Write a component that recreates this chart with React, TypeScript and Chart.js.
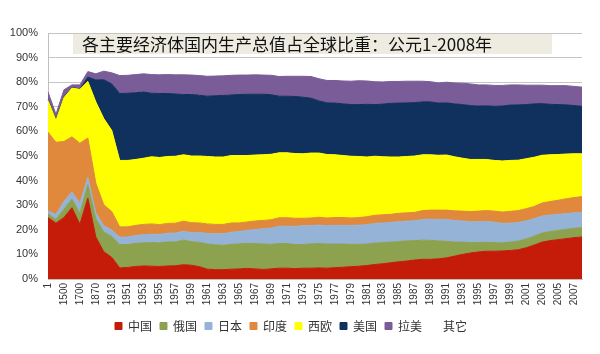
import React, { useEffect, useRef } from 'react';
import { Chart, registerables } from 'chart.js';

Chart.register(...registerables);

const categories = [
  '1', '1000', '1500', '1600', '1700', '1820', '1870', '1900', '1913',
  '1950', '1951', '1952', '1953', '1954', '1955', '1956', '1957', '1958', '1959',
  '1960', '1961', '1962', '1963', '1964', '1965', '1966', '1967', '1968', '1969',
  '1970', '1971', '1972', '1973', '1974', '1975', '1976', '1977', '1978', '1979',
  '1980', '1981', '1982', '1983', '1984', '1985', '1986', '1987', '1988', '1989',
  '1990', '1991', '1992', '1993', '1994', '1995', '1996', '1997', '1998', '1999',
  '2000', '2001', '2002', '2003', '2004', '2005', '2006', '2007', '2008',
];

const china = [
  25.0, 22.7, 25.0, 29.0, 22.3, 32.9, 17.1, 11.1, 8.8,
  4.5, 4.7, 5.1, 5.3, 5.2, 5.1, 5.3, 5.4, 5.8, 5.6,
  5.0, 4.0, 3.8, 3.8, 4.0, 4.1, 4.3, 4.1, 3.9, 4.1,
  4.4, 4.4, 4.2, 4.4, 4.4, 4.5, 4.4, 4.6, 4.8, 5.0,
  5.2, 5.5, 5.9, 6.2, 6.6, 7.0, 7.3, 7.7, 8.0, 8.0,
  8.2, 8.6, 9.3, 10.0, 10.6, 11.0, 11.3, 11.3, 11.4, 11.6,
  11.9, 12.7, 13.8, 15.0, 15.6, 16.0, 16.4, 16.8, 17.1,
];

const russia = [
  1.5, 1.5, 3.4, 3.5, 4.4, 5.4, 7.5, 8.0, 8.5,
  9.5, 9.3, 9.4, 9.4, 9.6, 9.6, 9.8, 9.7, 10.0, 9.6,
  9.9, 10.2, 10.1, 9.9, 10.1, 10.2, 10.2, 10.3, 10.3, 10.0,
  10.0, 10.0, 9.8, 9.6, 9.9, 9.9, 9.8, 9.6, 9.4, 9.1,
  8.9, 8.7, 8.7, 8.6, 8.4, 8.2, 8.2, 7.9, 7.8, 7.7,
  7.3, 6.7, 5.7, 5.0, 4.2, 3.8, 3.6, 3.5, 3.3, 3.4,
  3.5, 3.6, 3.6, 3.7, 3.7, 3.7, 3.8, 3.8, 3.8,
];

const japan = [
  1.2, 2.0, 3.1, 2.9, 4.1, 3.0, 2.3, 2.5, 2.6,
  3.0, 3.1, 3.2, 3.3, 3.4, 3.4, 3.5, 3.6, 3.6, 3.7,
  4.0, 4.3, 4.5, 4.7, 4.9, 5.0, 5.3, 5.7, 6.2, 6.6,
  7.0, 7.1, 7.4, 7.6, 7.4, 7.5, 7.5, 7.6, 7.6, 7.7,
  7.8, 7.9, 8.0, 8.0, 8.0, 8.1, 8.0, 8.1, 8.4, 8.6,
  8.7, 8.9, 8.8, 8.6, 8.5, 8.5, 8.5, 8.3, 7.9, 7.7,
  7.6, 7.3, 7.1, 6.9, 6.7, 6.6, 6.4, 6.3, 6.2,
];

const india = [
  32.0, 29.4, 24.4, 22.4, 24.4, 16.0, 12.1, 8.6, 7.5,
  4.2, 4.1, 4.1, 4.2, 4.2, 4.0, 4.0, 4.0, 4.1, 4.0,
  3.9, 3.9, 3.8, 3.8, 3.8, 3.5, 3.4, 3.5, 3.4, 3.4,
  3.5, 3.4, 3.3, 3.1, 3.1, 3.2, 3.1, 3.2, 3.2, 3.0,
  3.1, 3.2, 3.3, 3.3, 3.3, 3.4, 3.4, 3.4, 3.6, 3.7,
  3.8, 3.8, 3.9, 4.0, 4.1, 4.3, 4.4, 4.5, 4.6, 4.8,
  4.8, 5.0, 5.0, 5.3, 5.5, 5.7, 6.0, 6.2, 6.4,
];

const westEurope = [
  12.9, 8.9, 17.8, 19.8, 21.9, 23.0, 33.0, 35.0, 33.0,
  27.0, 27.0, 26.8, 26.9, 27.3, 27.3, 27.2, 27.2, 27.0, 27.1,
  27.2, 27.4, 27.4, 27.4, 27.4, 27.4, 27.0, 26.8, 26.7, 26.6,
  26.4, 26.4, 26.3, 26.2, 26.4, 26.1, 25.8, 25.5, 25.2, 25.1,
  24.8, 24.3, 24.0, 23.6, 23.3, 22.9, 22.9, 22.9, 22.7, 22.5,
  22.3, 22.4, 22.0, 21.5, 21.2, 21.0, 20.8, 20.6, 20.8, 20.7,
  20.5, 20.3, 20.0, 19.4, 19.0, 18.6, 18.2, 17.8, 17.4,
];

const usa = [
  0.3, 0.4, 0.3, 0.2, 0.1, 1.8, 8.9, 15.8, 18.9,
  27.2, 27.3, 27.1, 26.9, 25.8, 26.0, 25.6, 25.3, 24.5, 25.0,
  24.7, 24.5, 24.9, 25.0, 24.6, 24.8, 24.9, 24.7, 24.6, 24.2,
  23.0, 23.0, 23.2, 23.0, 22.3, 21.2, 21.0, 21.0, 21.0, 21.0,
  21.1, 21.4, 21.0, 21.4, 21.8, 21.9, 21.8, 21.7, 21.5, 21.5,
  21.2, 21.2, 21.5, 21.8, 21.9, 21.7, 21.8, 22.0, 22.3, 22.5,
  22.5, 22.0, 21.7, 21.0, 20.5, 20.3, 20.0, 19.6, 19.3,
];

const latinAmerica = [
  3.1, 2.1, 2.9, 1.1, 1.7, 2.2, 2.5, 3.5, 4.5,
  7.3, 7.3, 7.4, 7.4, 7.6, 7.6, 7.7, 7.8, 8.0, 7.9,
  8.0, 8.1, 8.0, 8.0, 8.0, 7.9, 7.8, 7.9, 7.8, 7.9,
  8.0, 8.1, 8.2, 8.5, 8.8, 9.0, 9.1, 9.2, 9.3, 9.5,
  9.7, 9.5, 9.3, 9.0, 8.9, 8.8, 8.8, 8.7, 8.4, 8.2,
  8.2, 8.4, 8.5, 8.7, 8.8, 8.6, 8.5, 8.5, 8.4, 8.2,
  8.1, 7.9, 7.6, 7.5, 7.6, 7.7, 7.8, 7.8, 7.8,
];

const seriesNames = ['中国', '俄国', '日本', '印度', '西欧', '美国', '拉美', '其它'];
const seriesColors = ['#C41C08', '#8DA24F', '#95B3D7', '#E0893C', '#FFFF00', '#10305E', '#7A5D98', 'rgba(255,255,255,0)'];

const titleText = '各主要经济体国内生产总值占全球比重：公元1-2008年';

export default function App() {
  const ref = useRef<HTMLCanvasElement>(null);

  useEffect(() => {
    const known = [china, russia, japan, india, westEurope, usa, latinAmerica];
    const other = categories.map((_, i) =>
      +(100 - known.reduce((s, arr) => s + arr[i], 0)).toFixed(1)
    );
    const series = [...known, other];
    const tickFont = { family: '"Liberation Sans", Arial, sans-serif', size: 11 };

    const chart = new Chart(ref.current as HTMLCanvasElement, {
      type: 'line',
      data: {
        labels: categories,
        datasets: series.map((d, k) => ({
          label: seriesNames[k],
          data: d,
          backgroundColor: seriesColors[k],
          borderColor: seriesColors[k],
          borderWidth: 1,
          pointRadius: 0,
          pointHoverRadius: 0,
          tension: 0,
          fill: k === 0 ? 'origin' : '-1',
        })),
      },
      options: {
        animation: false,
        responsive: false,
        maintainAspectRatio: false,
        layout: { padding: { top: 33, right: 18, bottom: 12, left: 0 } },
        plugins: {
          legend: {
            position: 'bottom',
            labels: {
              boxWidth: 7,
              boxHeight: 7,
              padding: 8,
              color: '#333333',
              font: { family: '"Noto Sans CJK SC", sans-serif', size: 12 },
            },
          },
          tooltip: { enabled: false },
        },
        scales: {
          x: {
            grid: { display: false, drawTicks: false },
            border: { display: true, color: '#BFBFBF' },
            ticks: {
              autoSkip: false,
              maxRotation: 90,
              minRotation: 90,
              padding: 4,
              color: '#333333',
              font: { ...tickFont, size: 10 },
              callback: (_v: any, i: number) => (i % 2 === 0 ? categories[i] : ''),
            },
            afterFit: (s: any) => { s.height = 33; },
          },
          y: {
            stacked: true,
            min: 0,
            max: 100,
            grid: { color: '#C4C4C4', drawTicks: false },
            border: { display: true, color: '#BFBFBF' },
            ticks: {
              stepSize: 10,
              padding: 10,
              color: '#333333',
              font: tickFont,
              callback: (v: any) => v + '%',
            },
            afterFit: (s: any) => { s.width = 48; },
          },
        },
      },
    });
    return () => chart.destroy();
  }, []);

  return (
    <div style={{ position: 'fixed', left: 0, top: 0, width: 600, height: 354, background: '#fff' }}>
      <canvas ref={ref} width={600} height={354} style={{ display: 'block' }} />
      <div
        style={{
          position: 'absolute',
          left: 73,
          top: 34,
          width: 479,
          height: 20,
          background: '#EEECE1',
          fontFamily: '"Noto Sans CJK SC", sans-serif',
          fontSize: 17,
          lineHeight: '20px',
          color: '#111',
          paddingLeft: 9,
          boxSizing: 'border-box',
          whiteSpace: 'nowrap',
        }}
      >
        {titleText}
      </div>
    </div>
  );
}
